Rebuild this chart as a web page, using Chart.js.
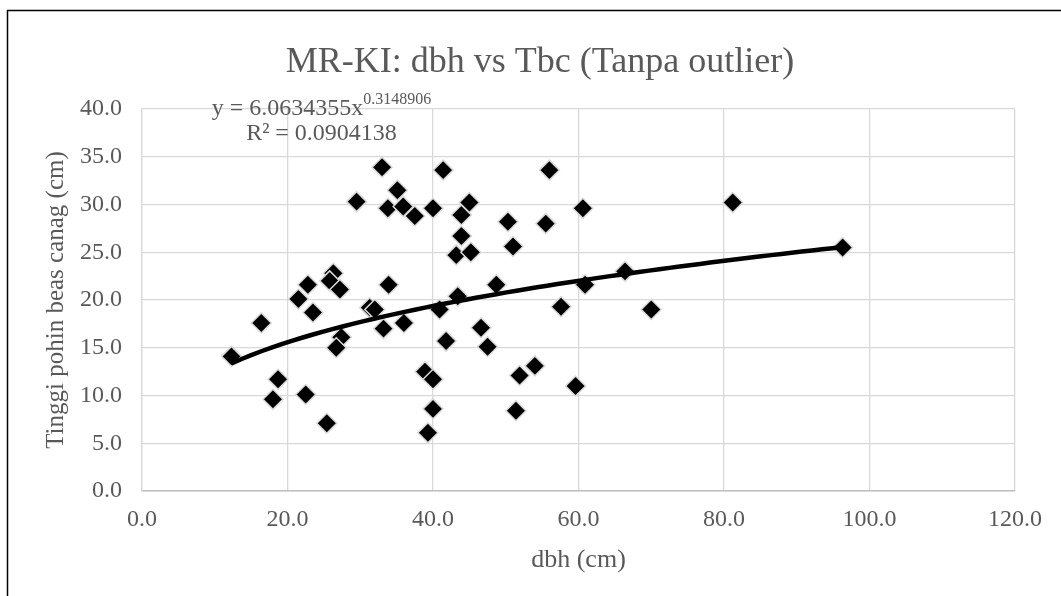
<!DOCTYPE html>
<html>
<head>
<meta charset="utf-8">
<script src="https://cdn.jsdelivr.net/npm/chart.js@4.4.1/dist/chart.umd.min.js"></script>
<style>
  html, body { margin: 0; padding: 0; background: #fff; overflow: hidden; }
  #wrap { width: 1061px; height: 596px; }
</style>
</head>
<body>
<div id="wrap"><canvas id="chart" width="1061" height="596"></canvas></div>
<script>
// data
const dbh = [12.3, 16.4, 18.0, 18.7, 21.5, 22.5, 22.8, 23.5, 25.4, 26.3,
  25.8, 27.2, 27.4, 26.7, 29.5, 31.3, 32.0, 33.0, 33.2, 33.8,
  33.9, 35.1, 35.9, 36.0, 37.5, 38.9, 39.3, 40.0, 40.0, 40.0,
  40.9, 41.4, 41.8, 43.2, 43.4, 43.9, 43.9, 45.0, 45.2, 46.6,
  47.5, 48.7, 50.3, 51.0, 51.4, 51.9, 54.0, 55.5, 56.0, 57.6,
  59.6, 60.6, 60.9, 66.4, 70.0, 81.2, 96.3];
const tbc = [14.1, 17.6, 9.6, 11.7, 20.1, 10.1, 21.6, 18.7, 7.1, 22.8,
  22.0, 21.1, 16.1, 15.0, 30.3, 19.2, 19.0, 33.9, 17.0, 29.6,
  21.6, 31.5, 29.8, 17.6, 28.8, 12.5, 6.1, 29.6, 11.7, 8.6,
  19.0, 33.6, 15.7, 24.7, 20.4, 28.9, 26.7, 30.2, 25.0, 17.1,
  15.1, 21.6, 28.2, 25.6, 8.4, 12.1, 13.1, 28.0, 33.6, 19.3,
  11.0, 29.6, 21.6, 23.0, 19.0, 30.2, 25.5];

const xTicks = [0, 20, 40, 60, 80, 100, 120];
const yTicks = [0, 5, 10, 15, 20, 25, 30, 35, 40];

// power trendline as printed on the chart
const coefA = 6.0634355;
const coefB = 0.3148906;
const rSquared = '0.0904138';

const points = dbh.map((x, i) => ({x: x, y: tbc[i]}));
const xMin = Math.min(...dbh), xMax = Math.max(...dbh);
const trend = [];
for (let i = 0; i <= 60; i++) {
  const x = xMin + (xMax - xMin) * i / 60;
  trend.push({x: x, y: coefA * Math.pow(x, coefB)});
}

const serif = "'Liberation Serif', 'Times New Roman', serif";
const grey = '#595959';

// outer frame, title and trendline label
const extras = {
  id: 'extras',
  beforeDraw(chart) {
    const c = chart.ctx;
    c.save();
    c.fillStyle = '#fff';
    c.fillRect(0, 0, chart.width, chart.height);
    c.strokeStyle = '#000';
    c.lineWidth = 1.5;
    c.strokeRect(7.5, 10.5, 1070, 600);
    c.restore();
  },
  afterDraw(chart) {
    const c = chart.ctx;
    c.save();
    c.fillStyle = grey;
    c.textBaseline = 'alphabetic';
    c.textAlign = 'center';
    c.font = '36px ' + serif;
    c.fillText('MR-KI: dbh vs Tbc (Tanpa outlier)', 540, 72);

    // equation, centred at 321
    const cx = 321.5;
    c.font = '24px ' + serif;
    const main = 'y = ' + coefA + 'x';
    const wMain = c.measureText(main).width;
    c.font = '16px ' + serif;
    const sup = String(coefB);
    const wSup = c.measureText(sup).width;
    const left = cx - (wMain + wSup) / 2;
    c.textAlign = 'left';
    c.font = '24px ' + serif;
    c.fillText(main, left, 115);
    c.font = '16px ' + serif;
    c.fillText(sup, left + wMain, 104);
    c.textAlign = 'center';
    c.font = '24px ' + serif;
    c.fillText('R² = ' + rSquared, cx, 140);
    c.restore();
  }
};

const ctx = document.getElementById('chart').getContext('2d');
const myChart = new Chart(ctx, {
  type: 'scatter',
  data: {
    datasets: [{
      label: 'trend',
      data: trend,
      showLine: true,
      borderColor: '#000',
      borderWidth: 4.5,
      pointRadius: 0,
      fill: false,
      order: 0
    }, {
      label: 'Tbc',
      data: points,
      pointStyle: 'rectRot',
      pointRadius: 10,
      backgroundColor: '#000',
      borderColor: '#d9d9d9',
      borderWidth: 1.5,
      order: 1
    }]
  },
  options: {
    responsive: false,
    animation: false,
    layout: { padding: { top: 109, left: 12, right: 46, bottom: 6 } },
    plugins: {
      legend: { display: false },
      tooltip: { enabled: false },
      title: { display: false }
    },
    scales: {
      x: {
        type: 'linear',
        min: 0, max: 120,
        afterBuildTicks: s => { s.ticks = xTicks.map(v => ({value: v})); },
        afterFit: s => { s.height = 99; },
        grid: { color: '#d9d9d9', lineWidth: 1.3, drawTicks: false },
        border: { color: '#bfbfbf', width: 1.5 },
        ticks: {
          padding: 14,
          color: grey,
          font: { family: serif, size: 24 },
          callback: v => v.toFixed(1)
        },
        title: {
          display: true,
          text: 'dbh (cm)',
          color: grey,
          font: { family: serif, size: 26 },
          padding: { top: 0, bottom: 14 }
        }
      },
      y: {
        type: 'linear',
        min: 0, max: 40,
        afterBuildTicks: s => { s.ticks = yTicks.map(v => ({value: v})); },
        afterFit: s => { s.width = 130; },
        grid: { color: '#d9d9d9', lineWidth: 1.3, drawTicks: false },
        border: { color: '#d9d9d9', width: 1.3 },
        ticks: {
          padding: 20,
          color: grey,
          font: { family: serif, size: 24 },
          callback: v => v.toFixed(1)
        },
        title: {
          display: true,
          text: 'Tinggi pohin beas canag (cm)',
          color: grey,
          font: { family: serif, size: 25 },
          padding: { top: 29, bottom: 0 }
        }
      }
    }
  },
  plugins: [extras]
});
</script>
</body>
</html>
